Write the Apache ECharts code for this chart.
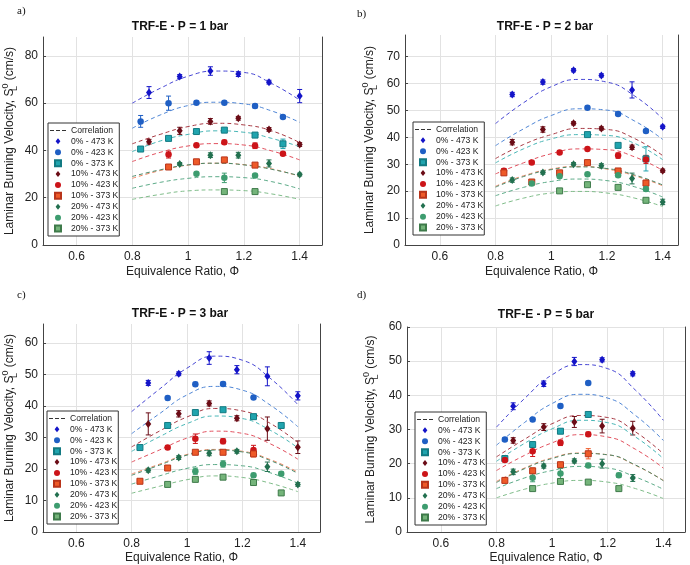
<!DOCTYPE html>
<html>
<head>
<meta charset="utf-8">
<title>TRF-E laminar burning velocity</title>
<script src="https://cdn.jsdelivr.net/npm/echarts@6/dist/echarts.min.js"></script>
<style>
html, body { margin: 0; padding: 0; background: #fff; }
#chart { width: 690px; height: 565px; }
</style>
</head>
<body>
<div id="chart"></div>
<script>
// equivalence ratios of the measurements
const phiHot = [0.86, 0.97, 1.08, 1.18, 1.29, 1.40];   // 473 K runs
const phiCool = [0.83, 0.93, 1.03, 1.13, 1.24, 1.34];  // 423 K and 373 K runs
const phiCorr = [0.8, 0.9, 1.0, 1.1, 1.2, 1.3, 1.4];   // correlation curves

const names = ['0% - 473 K', '0% - 423 K', '0% - 373 K',
               '10% - 473 K', '10% - 423 K', '10% - 373 K',
               '20% - 473 K', '20% - 423 K', '20% - 373 K'];

const xTicks = [0.6, 0.8, 1, 1.2, 1.4];
const yTicksP1 = [0, 20, 40, 60, 80];
const yTicksP2 = [0, 10, 20, 30, 40, 50, 60, 70];
const yTicksP3 = [0, 10, 20, 30, 40, 50, 60];
const yTicksP5 = [0, 10, 20, 30, 40, 50, 60];

// P = 1 bar
const slP1 = [
  [64.5, 71.3, 73.6, 72.3, 68.9, 63.0],
  [52.3, 60.0, 60.2, 60.2, 58.8, 54.2],
  [40.6, 45.1, 48.0, 48.6, 46.5, 42.8],
  [43.7, 48.3, 52.3, 53.6, 48.9, 42.5],
  [null, 38.3, 42.2, 43.5, 42.0, 38.6],
  [null, 33.0, 35.2, 36.0, 33.8, null],
  [null, 34.3, 38.0, 38.0, 34.5, 29.8],
  [null, null, 30.1, 28.4, 29.4, null],
  [null, null, null, 22.6, 22.6, null]
];
const errP1 = [
  [2.5, 0.8, 1.8, 1.0, 0.8, 2.8],
  [2.5, 3.0, 0.6, 0.6, 0.8, 0.6],
  [0.8, 0.6, 0.5, 0.5, 0.8, 2.0],
  [1.0, 1.5, 1.2, 0.8, 0.8, 0.8],
  [null, 1.5, 0.6, 0.8, 1.2, 0.6],
  [null, 0.6, 0.6, 0.6, 0.6, null],
  [null, 0.6, 1.0, 1.2, 1.5, 0.6],
  [null, null, 0.6, 2.0, 0.6, null],
  [null, null, null, 0.6, 0.6, null]
];
const corrP1 = [
  [60.0, 66.3, 71.4, 73.6, 73.0, 68.3, 61.3],
  [49.4, 55.0, 59.0, 60.4, 59.7, 56.7, 51.9],
  [39.5, 44.0, 46.8, 48.3, 47.7, 45.1, 41.6],
  [42.8, 46.8, 50.1, 51.5, 50.8, 48.3, 43.3],
  [35.3, 39.2, 41.9, 42.9, 42.3, 39.8, 36.0],
  [28.2, 31.5, 33.8, 34.6, 34.0, 32.2, 29.0],
  [29.0, 31.8, 33.9, 34.6, 33.9, 32.0, 29.3],
  [24.0, 26.5, 28.2, 28.9, 28.5, 26.8, 23.7],
  [19.3, 21.4, 22.9, 23.3, 23.0, 21.6, 19.3]
];

// P = 2 bar
const slP2 = [
  [55.9, 60.5, 64.9, 63.0, 57.6, 43.9],
  [null, null, null, 51.0, 48.7, 42.3],
  [null, null, null, 41.0, 37.0, 32.0],
  [38.2, 42.9, 45.2, 43.3, 36.3, 27.6],
  [27.6, 30.6, 34.4, 35.7, 33.2, 31.8],
  [26.8, 23.4, 26.8, 30.6, 27.5, 23.0],
  [24.1, 26.9, 30.0, 29.4, 24.7, 16.0],
  [null, 22.8, 25.5, 26.3, 25.9, 20.8],
  [null, null, 20.1, 22.4, 21.4, 16.6]
];
const errP2 = [
  [0.8, 0.8, 0.6, 0.6, 3.0, 0.6],
  [null, null, null, 0.5, 0.6, 0.6],
  [null, null, null, 0.5, 0.6, 4.5],
  [1.0, 1.0, 0.6, 0.6, 0.8, 0.6],
  [0.8, 0.5, 0.5, 0.5, 1.0, 1.5],
  [0.8, 0.6, 0.6, 0.5, 0.6, 1.0],
  [0.8, 0.6, 0.6, 0.8, 2.0, 1.0],
  [null, 0.6, 0.6, 0.6, 0.6, 0.8],
  [null, null, 0.5, 0.5, 0.5, 0.6]
];
const corrP2 = [
  [45.1, 52.8, 58.8, 61.5, 60.5, 55.3, 46.9],
  [36.9, 43.1, 48.1, 50.6, 50.1, 46.0, 39.2],
  [30.5, 35.7, 39.4, 41.0, 40.7, 37.7, 31.7],
  [32.1, 37.3, 41.0, 43.3, 42.9, 39.5, 33.2],
  [26.4, 30.5, 33.9, 35.7, 35.4, 32.7, 27.7],
  [21.8, 25.7, 28.2, 29.2, 28.2, 25.7, 22.0],
  [21.5, 25.4, 28.0, 29.0, 28.4, 26.0, 22.3],
  [18.3, 21.4, 23.6, 24.5, 23.9, 21.6, 17.8],
  [14.5, 17.4, 19.3, 19.9, 19.3, 17.4, 14.3]
];

// P = 3 bar
const slP3 = [
  [47.3, 50.2, 55.2, 51.5, 49.4, 43.2],
  [null, 42.5, 46.9, 47.0, 42.7, null],
  [26.8, 33.8, 37.9, 38.8, 36.6, 33.8],
  [34.3, 37.5, 40.8, 36.1, 32.8, 26.9],
  [null, 26.8, 29.6, 28.8, 26.0, null],
  [16.1, 20.3, 25.3, 25.3, 24.8, null],
  [19.6, 23.6, 25.0, 25.6, 20.7, 15.1],
  [null, null, 19.3, 21.6, 18.0, 18.5],
  [null, 15.1, 16.7, 17.4, 15.7, 12.4]
];
const errP3 = [
  [0.8, 0.6, 2.0, 1.3, 3.0, 1.3],
  [null, 0.5, 0.6, 0.6, 0.5, null],
  [0.5, 0.5, 0.5, 0.5, 0.5, 0.6],
  [3.5, 1.0, 0.8, 0.8, 3.7, 2.0],
  [null, 0.5, 1.5, 0.8, 1.5, null],
  [0.5, 0.5, 0.6, 0.6, 1.0, null],
  [0.6, 0.6, 0.8, 0.6, 1.5, 0.6],
  [null, null, 1.0, 1.0, 0.6, 0.6],
  [null, 0.5, 0.5, 0.6, 0.5, 0.6]
];
const corrP3 = [
  [38.2, 45.3, 52.0, 55.8, 54.5, 48.8, 40.4],
  [31.2, 37.5, 43.5, 46.2, 45.0, 40.3, 33.4],
  [25.6, 30.2, 34.4, 36.8, 36.0, 32.3, 26.7],
  [27.0, 32.0, 36.5, 39.2, 38.4, 34.5, 28.4],
  [22.2, 26.0, 29.8, 32.0, 31.3, 28.0, 23.1],
  [18.4, 21.5, 24.6, 26.2, 25.6, 23.0, 19.0],
  [18.0, 21.2, 24.4, 26.0, 25.4, 22.7, 18.6],
  [15.2, 17.8, 20.2, 21.4, 21.0, 18.8, 15.5],
  [12.3, 14.5, 16.6, 17.8, 17.3, 15.5, 12.8]
];

// P = 5 bar
const slP5 = [
  [36.8, 43.4, 49.9, 50.4, 46.3, null],
  [27.1, 32.9, 36.9, 43.6, null, null],
  [21.5, 25.6, 29.5, 34.4, null, null],
  [26.8, 30.7, 32.2, 31.0, 30.4, null],
  [21.1, 23.6, 26.1, 28.6, null, null],
  [15.1, 17.9, 19.7, 22.9, null, null],
  [17.6, 19.3, 20.8, 20.0, 15.8, null],
  [null, 15.9, 17.1, 19.5, 16.6, null],
  [null, 12.7, 14.8, 14.6, 12.7, null]
];
const errP5 = [
  [1.0, 0.8, 1.2, 0.6, 0.6, null],
  [0.5, 0.5, 0.5, 0.5, null, null],
  [0.5, 0.5, 0.5, 0.5, null, null],
  [0.8, 1.0, 1.6, 2.0, 2.0, null],
  [0.6, 1.5, 0.8, 0.6, null, null],
  [0.5, 0.8, 0.6, 1.5, null, null],
  [0.8, 0.6, 0.6, 1.3, 1.0, null],
  [null, 1.2, 1.5, 0.6, 0.6, null],
  [null, 0.5, 0.5, 0.5, 0.5, null]
];
const corrP5 = [
  [30.7, 39.0, 46.0, 49.0, 47.8, 41.5, 32.7],
  [25.4, 32.0, 37.6, 40.3, 39.2, 34.1, 26.8],
  [20.7, 25.9, 30.2, 32.7, 32.0, 27.8, 21.5],
  [22.0, 27.1, 31.7, 34.1, 33.5, 29.3, 22.9],
  [18.0, 22.4, 26.1, 28.5, 27.8, 24.2, 18.7],
  [14.8, 18.7, 21.7, 23.1, 22.6, 19.5, 15.1],
  [14.5, 18.5, 21.5, 23.0, 22.6, 19.6, 15.0],
  [12.7, 15.8, 18.0, 19.2, 18.7, 16.1, 12.5],
  [10.0, 12.5, 14.3, 15.1, 14.6, 12.7, 9.8]
];

// styles
const FONT = 'Liberation Sans, Arial, sans-serif';
const markColors = ['#1414c8', '#1f5fc4', '#20a4ae', '#6b0c16', '#cc1419', '#ee5a28', '#22704f', '#3d9c6f', '#74b47a'];
const markEdges  = ['#1414c8', '#1f5fc4', '#127a82', '#6b0c16', '#cc1419', '#b8341a', '#22704f', '#3d9c6f', '#3e7a4a'];
const lineColors = ['#4646d4', '#4f86d6', '#48b6b6', '#a83a44', '#e2505e', '#ee8462', '#4a8a6a', '#5cab88', '#80bd8a'];
const symbols = ['diamond', 'circle', 'rect'];
const symbolSizes = [[6, 8], 6.5, 6];
// legend icons (paths keep their aspect inside the wide legend slot)
const dashIcon = 'path://M0,0h4v1h-4zM6,0h4v1h-4zM12,0h4v1h-4z';
const legendIcons = ['path://M4,0L8,5L4,10L0,5Z', 'circle', 'path://M0,0h10v10h-10z'];

const panels = [
  { tag: 'a)', tagPos: [17, 6], title: 'TRF-E - P = 1 bar', titlePos: [180, 21],
    grid: [38, 37, 284, 208], x: [0.48, 1.48], yMax: 88, yTicks: yTicksP1,
    legendPos: [48, 123], yNameGap: 24, xNameGap: 21, sl: slP1, err: errP1, corr: corrP1 },
  { tag: 'b)', tagPos: [357, 9], title: 'TRF-E - P = 2 bar', titlePos: [545, 21],
    grid: [405, 35, 273, 210], x: [0.475, 1.455], yMax: 78, yTicks: yTicksP2,
    legendPos: [413, 122], yNameGap: 26, xNameGap: 21, sl: slP2, err: errP2, corr: corrP2 },
  { tag: 'c)', tagPos: [17, 290], title: 'TRF-E - P = 3 bar', titlePos: [180, 308],
    grid: [38, 324, 282, 208], x: [0.48, 1.48], yMax: 66, yTicks: yTicksP3,
    legendPos: [47, 411], yNameGap: 24, xNameGap: 20, sl: slP3, err: errP3, corr: corrP3 },
  { tag: 'd)', tagPos: [357, 290], title: 'TRF-E - P = 5 bar', titlePos: [546, 309],
    grid: [407, 327, 278, 205], x: [0.478, 1.478], yMax: 60, yTicks: yTicksP5,
    legendPos: [415, 412], yNameGap: 27, xNameGap: 20, sl: slP5, err: errP5, corr: corrP5 }
];

function renderErrorBar(params, api) {
  const x = api.value(0);
  const top = api.coord([x, api.value(2)]);
  const bot = api.coord([x, api.value(1)]);
  const stroke = markColors[api.value(3)];
  const cap = 2.5;
  return {
    type: 'group',
    children: [
      { type: 'line', shape: { x1: top[0], y1: top[1], x2: bot[0], y2: bot[1] }, style: { stroke: stroke, lineWidth: 1 } },
      { type: 'line', shape: { x1: top[0] - cap, y1: top[1], x2: top[0] + cap, y2: top[1] }, style: { stroke: stroke, lineWidth: 1 } },
      { type: 'line', shape: { x1: bot[0] - cap, y1: bot[1], x2: bot[0] + cap, y2: bot[1] }, style: { stroke: stroke, lineWidth: 1 } }
    ]
  };
}

const option = {
  animation: false,
  backgroundColor: '#fff',
  title: [], grid: [], xAxis: [], yAxis: [], legend: [],
  series: [
    // only used for the "Correlation" legend entry
    { type: 'line', name: 'Correlation', data: [], symbol: 'none', color: '#333',
      lineStyle: { type: [4, 3], width: 1, color: '#333' } }
  ]
};

const axisColor = '#444';
const txtColor = '#222';

panels.forEach((p, i) => {
  option.grid.push({ left: p.grid[0], top: p.grid[1], width: p.grid[2], height: p.grid[3] });
  option.title.push({
    text: p.title, left: p.titlePos[0], top: p.titlePos[1], textAlign: 'center', padding: 0,
    textStyle: { fontFamily: FONT, fontSize: 12, fontWeight: 'bold', color: '#111' }
  });
  option.title.push({
    text: p.tag, left: p.tagPos[0], top: p.tagPos[1], padding: 0,
    textStyle: { fontFamily: 'Liberation Serif, serif', fontSize: 11, fontWeight: 'normal', color: '#111' }
  });

  // bottom x axis (labels + grid) and top line
  option.xAxis.push({
    type: 'value', gridIndex: i, min: p.x[0], max: p.x[1],
    name: 'Equivalence Ratio, Φ', nameLocation: 'middle', nameGap: p.xNameGap,
    nameTextStyle: { fontFamily: FONT, fontSize: 12, color: txtColor },
    axisLine: { show: false },
    axisTick: { show: false, customValues: xTicks },
    axisLabel: { customValues: xTicks, fontFamily: FONT, fontSize: 12, color: txtColor, margin: 6 },
    splitLine: { show: true, lineStyle: { color: '#e2e2e2', width: 1 } }
  });
  option.xAxis.push({
    type: 'value', gridIndex: i, position: 'top', min: p.x[0], max: p.x[1],
    axisLine: { show: true, lineStyle: { color: axisColor, width: 1 } },
    axisTick: { show: false }, axisLabel: { show: false }, splitLine: { show: false }
  });

  // left y axis and right line
  option.yAxis.push({
    type: 'value', gridIndex: i, min: 0, max: p.yMax,
    name: 'Laminar Burning Velocity, S{sub|L}{sup|0} (cm/s)',
    nameLocation: 'middle', nameGap: p.yNameGap,
    nameTextStyle: {
      fontFamily: FONT, fontSize: 12, color: txtColor, lineHeight: 18,
      rich: {
        sub: { fontFamily: FONT, fontSize: 9, color: txtColor, lineHeight: 9, verticalAlign: 'bottom', width: 0 },
        sup: { fontFamily: FONT, fontSize: 9, color: txtColor, lineHeight: 9, verticalAlign: 'top' }
      }
    },
    axisLine: { show: true, lineStyle: { color: axisColor, width: 1 } },
    axisTick: { show: true, inside: true, length: 3, customValues: p.yTicks, lineStyle: { color: axisColor } },
    axisLabel: { customValues: p.yTicks, fontFamily: FONT, fontSize: 12, color: txtColor, margin: 5 },
    splitLine: { show: true, lineStyle: { color: '#e2e2e2', width: 1 } }
  });
  option.yAxis.push({
    type: 'value', gridIndex: i, position: 'right', min: 0, max: p.yMax,
    axisLine: { show: true, lineStyle: { color: axisColor, width: 1 } },
    axisTick: { show: false }, axisLabel: { show: false }, splitLine: { show: false }
  });

  // correlation curves
  p.corr.forEach((vals, k) => {
    option.series.push({
      type: 'line', name: names[k] + ' correlation', xAxisIndex: 2 * i, yAxisIndex: 2 * i,
      data: phiCorr.map((x, j) => [x, vals[j]]),
      smooth: 0.5, symbol: 'none', silent: true,
      lineStyle: { color: lineColors[k], width: 1, type: [4, 3] }
    });
  });

  // error bars
  const bars = [];
  p.sl.forEach((vals, k) => {
    const phi = k % 3 === 0 ? phiHot : phiCool;
    vals.forEach((v, j) => {
      const e = p.err[k][j];
      if (v != null && e != null) bars.push([phi[j], v - e, v + e, k]);
    });
  });
  option.series.push({
    type: 'custom', name: 'error bars', xAxisIndex: 2 * i, yAxisIndex: 2 * i,
    renderItem: renderErrorBar, data: bars, encode: { x: 0, y: [1, 2] }, silent: true
  });

  // measured points
  p.sl.forEach((vals, k) => {
    const phi = k % 3 === 0 ? phiHot : phiCool;
    option.series.push({
      type: 'scatter', name: names[k], xAxisIndex: 2 * i, yAxisIndex: 2 * i,
      symbol: symbols[k % 3], symbolSize: symbolSizes[k % 3],
      itemStyle: { color: markColors[k], borderColor: markEdges[k], borderWidth: k % 3 === 2 ? 1 : 0, opacity: 1 },
      data: phi.map((x, j) => [x, vals[j]]).filter(d => d[1] != null),
      z: 3
    });
  });

  option.legend.push({
    left: p.legendPos[0], top: p.legendPos[1], orient: 'vertical',
    data: [{ name: 'Correlation', icon: dashIcon }].concat(
      names.map((n, k) => ({ name: n, icon: legendIcons[k % 3] }))),
    itemWidth: 16, itemHeight: 6, itemGap: 0, padding: [2, 1, 2, 2],
    symbolKeepAspect: true,
    borderColor: '#333', borderWidth: 1, backgroundColor: '#fff', selectedMode: false,
    textStyle: { fontFamily: FONT, fontSize: 8.6, color: txtColor, lineHeight: 10.9 }
  });
});

const chart = echarts.init(document.getElementById('chart'));
chart.setOption(option);
</script>
</body>
</html>
